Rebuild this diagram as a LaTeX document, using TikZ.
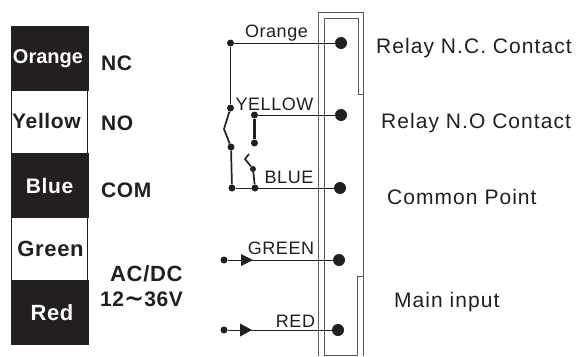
\documentclass[tikz,border=0pt]{standalone}
\usepackage{fontspec}
\setmainfont{Liberation Sans}
\usetikzlibrary{calc}
\definecolor{barblack}{HTML}{231F20}
\newfontfamily\wirefont[LetterSpace=3]{Liberation Sans}
\newfontfamily\capfont[LetterSpace=5]{Liberation Sans}
\newfontfamily\barfont[LetterSpace=3,BoldFont={Liberation Sans Bold}]{Liberation Sans}
\tikzset{
  x=1pt,y=-1pt,
  blackbar/.style={draw=barblack,fill=barblack,line width=0.6pt},
  whitebar/.style={draw=barblack,fill=white,line width=0.6pt},
  barlabel/.style={font=\barfont\fontsize{21}{23}\selectfont\bfseries,inner sep=0pt,anchor=center},
  sidelabel/.style={font=\barfont\fontsize{21}{23}\selectfont\bfseries,text=barblack,inner sep=0pt,anchor=base west},
  wirelabel/.style={font=\wirefont\fontsize{18}{20}\selectfont,text=barblack,inner sep=0pt,anchor=base},
  caption/.style={font=\capfont\fontsize{21}{23}\selectfont,text=barblack,inner sep=0pt,anchor=base west},
  wire/.style={draw=barblack,line width=1pt},
  thickwire/.style={draw=barblack,line width=1.7pt},
  panel/.style={draw=barblack!75,line width=0.9pt},
  smalldot/.style={circle,fill=barblack,minimum size=7pt,inner sep=0pt},
  bigdot/.style={circle,fill=barblack,minimum size=12pt,inner sep=0pt},
  tri/.style={fill=barblack,draw=none},
}
\begin{document}
\begin{tikzpicture}
\useasboundingbox (0,0) rectangle (577,356);
\fill[white] (0,0) rectangle (577,356);
% colour bars
\path[blackbar] (11,26) rectangle (88,90);
\path[whitebar] (11,90) rectangle (87,153);
\path[blackbar] (11,153) rectangle (88,217);
\path[whitebar] (11,217) rectangle (87,280);
\path[blackbar] (11,280) rectangle (88,344);
\node[barlabel,text=white,font=\bfseries\fontsize{20}{22}\selectfont] (lo) at (48,59) {Orange};
\node[barlabel,text=barblack] (ly) at (46.5,121) {Yellow};
\node[barlabel,text=white] (lb) at (49.5,186) {Blue};
\node[barlabel,text=barblack,font=\barfont\fontsize{22}{24}\selectfont\bfseries] (lg) at (50.5,249) {Green};
\node[barlabel,text=white,font=\barfont\fontsize{22}{24}\selectfont\bfseries] (lr) at (52,313) {Red};
\node[sidelabel] (nc) at (101,70) {NC};
\node[sidelabel] (no) at (101,130) {NO};
\node[sidelabel] (com) at (101,197) {COM};
\node[sidelabel,font=\barfont\fontsize{22}{24}\selectfont\bfseries] (acdc) at (110,281) {AC/DC};
\node[sidelabel] (volt) at (100,306) {12{\fontspec{DejaVu Sans}\fontsize{24}{24}\selectfont\char"223C}36V};
% panel
\draw[panel] (318,356) -- (318,12) -- (363,12) -- (363,276) -- (357,276) -- (357,355) -- (324,355) -- (324,18) -- (358,18) -- (358,94) -- (363,94);
\draw[panel] (363,276) -- (363,356);
% contacts and junctions
\node[smalldot] (j1) at (230.5,43) {};
\node[bigdot] (b1) at (341,43) {};
\node[smalldot] (j2) at (230.5,108) {};
\node[smalldot] (j3) at (231,147) {};
\node[smalldot] (j4) at (232,188) {};
\node[smalldot] (j5) at (255,188) {};
\node[bigdot] (b3) at (340,188) {};
\node[smalldot] (j6) at (254.5,115) {};
\node[bigdot] (b2) at (341,115) {};
\node[smalldot] (j7) at (254.5,143) {};
\node[smalldot,minimum size=6pt] (j8) at (253,169) {};
\coordinate (k1) at (224,129);
\coordinate (k2) at (249,154);
\coordinate (k3) at (245,159);
\node[smalldot] (i1) at (224,260) {};
\node[bigdot] (b4) at (339,260) {};
\node[smalldot] (i2) at (224,330) {};
\node[bigdot] (b5) at (338,330) {};
% wires
\draw[wire] (j1) -- (b1);
\draw[wire] (j1) -- (j2);
\draw[thickwire] (j2) -- (k1) -- (j3);
\draw[thickwire] (j3) -- (j4);
\draw[wire] (j4) -- (b3);
\draw[wire] (j6) -- (b2);
\draw[line width=2.2pt,draw=barblack] (j6) -- (j7);
\draw[thickwire] (k2) -- (k3) -- (j8);
\draw[thickwire] (j8) -- (j5);
\draw[wire] (i1) -- (b4);
\draw[wire] (i2) -- (b5);
\path[tri] (241,254) -- (253,260) -- (241,266) -- cycle;
\path[tri] (240,323.5) -- (252,330) -- (240,336.5) -- cycle;
% wire labels
\node[wirelabel] (wo) at (276.5,37) {Orange};
\node[wirelabel] (wy) at (274.5,110) {YELLOW};
\node[wirelabel] (wb) at (289,183) {BLUE};
\node[wirelabel] (wg) at (281,254) {GREEN};
\node[wirelabel] (wr) at (295.5,327) {RED};
% captions
\node[caption] (c1) at (376,53) {Relay N.C. Contact};
\node[caption] (c2) at (381,128) {Relay N.O Contact};
\node[caption] (c3) at (387,204) {Common Point};
\node[caption] (c4) at (394,307) {Main input};
\end{tikzpicture}
\end{document}
